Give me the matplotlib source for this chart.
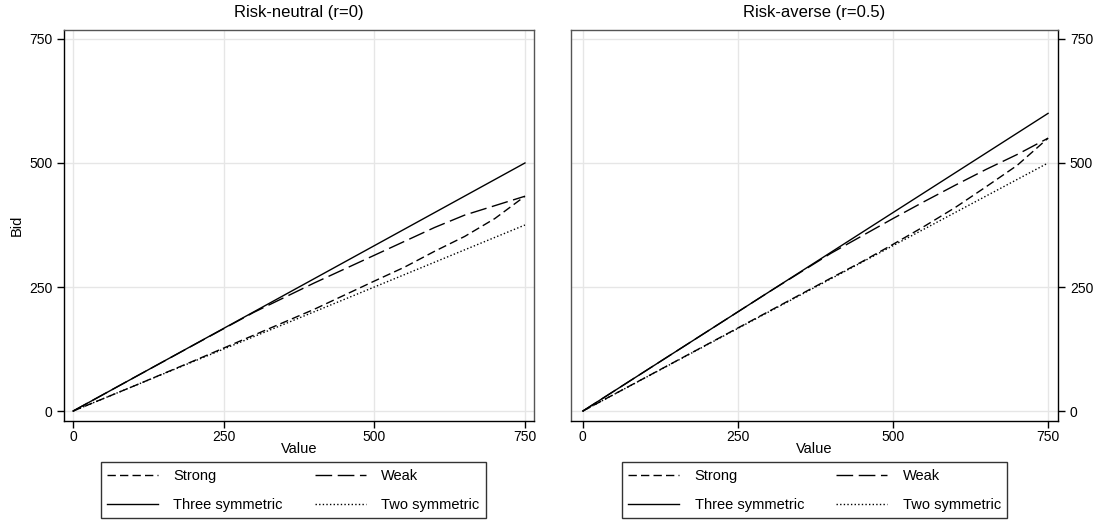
import numpy as np
import matplotlib.pyplot as plt

plt.rcParams['font.family'] = ['Liberation Sans', 'DejaVu Sans']

# values (value -> bid)
v_sym = [0, 750]

# risk-neutral, r=0
rn_three = [0, 500]
rn_two = [0, 375]
rn_v = [0, 100, 200, 300, 400, 500, 550, 600, 650, 700, 750]
rn_strong = [0, 50, 101, 153, 205, 262, 290, 322, 352, 388, 433]
rn_weak = [0, 66.7, 133, 199, 258, 314, 342, 370, 395, 414, 433]

# risk-averse, r=0.5
ra_three = [0, 600]
ra_two = [0, 500]
ra_v = [0, 100, 200, 300, 400, 450, 500, 550, 600, 650, 700, 750]
ra_strong = [0, 67, 134, 201, 268, 301, 336, 372, 410, 452, 495, 550]
ra_weak = [0, 80, 160, 240, 318, 353, 388, 422, 455, 487, 517, 550]

ticks = [0, 250, 500, 750]
titles = ['Risk-neutral (r=0)', 'Risk-averse (r=0.5)']

fig = plt.figure(figsize=(10.98, 5.23), dpi=100)
ax1 = fig.add_axes([64/1098, 102/523, 470/1098, 391/523])
ax2 = fig.add_axes([571/1098, 102/523, 487/1098, 391/523])

panels = [
    (ax1, rn_v, rn_strong, rn_weak, rn_three, rn_two, (-15, 765), 0.488),
    (ax2, ra_v, ra_strong, ra_weak, ra_three, ra_two, (-19, 766), 0.5),
]

for i, (ax, v, strong, weak, three, two, xl, lx) in enumerate(panels):
    h1, = ax.plot(v, strong, color='black', lw=1, dashes=(6, 3), label='Strong')
    h2, = ax.plot(v, weak, color='black', lw=1, dashes=(12, 4), label='Weak')
    h3, = ax.plot(v_sym, three, color='black', lw=1, label='Three symmetric')
    h4, = ax.plot(v_sym, two, color='black', lw=1, dashes=(1, 1.6), label='Two symmetric')
    ax.set_xlim(xl)
    ax.set_ylim(-20, 768)
    ax.set_xticks(ticks)
    ax.set_yticks(ticks)
    ax.grid(True, color='#e6e6e6', lw=1)
    ax.set_axisbelow(True)
    ax.tick_params(direction='out', length=5, width=1, labelsize=10, colors='black')
    ax.tick_params(axis='x', pad=1.5)
    ax.set_title(titles[i], fontsize=12, pad=9)
    ax.set_xlabel('Value', fontsize=10.5, labelpad=-1.5)
    for s in ax.spines.values():
        s.set_color('#555555')
        s.set_linewidth(1)
    ax.spines['bottom'].set_color('black')
    # row order: Strong, Weak / Three symmetric, Two symmetric
    leg = ax.legend([h1, h3, h2, h4],
                    ['Strong', 'Three symmetric', 'Weak', 'Two symmetric'],
                    loc='upper center', bbox_to_anchor=(lx, -0.105), ncol=2,
                    fontsize=10.5, frameon=True, fancybox=False, edgecolor='black',
                    handlelength=3.5, columnspacing=2.2, handletextpad=1.05,
                    borderpad=0.45, labelspacing=1.05, borderaxespad=0)
    leg.get_frame().set_linewidth(1)

ax1.spines['left'].set_color('black')
ax1.set_ylabel('Bid', fontsize=10.5)
ax2.yaxis.tick_right()
ax2.spines['right'].set_color('black')

fig.savefig('out.png', dpi=100)
